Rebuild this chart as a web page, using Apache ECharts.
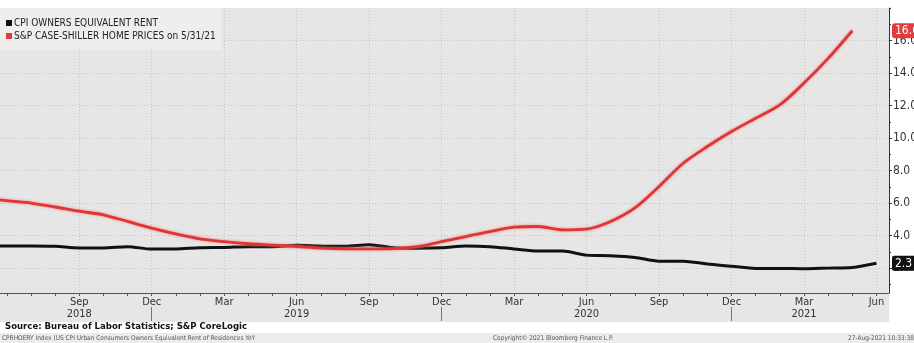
<!DOCTYPE html>
<html>
<head>
<meta charset="utf-8">
<script src="https://cdn.jsdelivr.net/npm/echarts@6/dist/echarts.min.js"></script>
<style>
html,body{margin:0;padding:0;background:#fff;}
#chart{width:914px;height:343px;}
</style>
</head>
<body>
<div id="chart"></div>
<script>
// ---- data ----
const months = ['2018-05','2018-06','2018-07','2018-08','2018-09','2018-10','2018-11','2018-12',
  '2019-01','2019-02','2019-03','2019-04','2019-05','2019-06','2019-07','2019-08','2019-09','2019-10','2019-11','2019-12',
  '2020-01','2020-02','2020-03','2020-04','2020-05','2020-06','2020-07','2020-08','2020-09','2020-10','2020-11','2020-12',
  '2021-01','2021-02','2021-03','2021-04','2021-05','2021-06'];
const cpiOER = [3.38,3.36,3.36,3.34,3.24,3.24,3.32,3.17,
  3.18,3.25,3.27,3.32,3.32,3.40,3.36,3.35,3.44,3.25,3.22,3.25,
  3.36,3.32,3.18,3.05,3.05,2.80,2.76,2.66,2.43,2.43,2.25,2.12,
  1.98,1.98,1.96,2.00,2.04,2.30];
const caseShiller = [6.35,6.15,6.00,5.76,5.50,5.28,4.87,4.46,
  4.10,3.80,3.63,3.50,3.42,3.33,3.23,3.18,3.18,3.20,3.32,3.63,
  3.94,4.25,4.52,4.56,4.35,4.40,4.87,5.70,7.02,8.45,9.48,10.40,
  11.22,12.04,13.38,14.90,16.60];
const seriesNames = ['CPI OWNERS EQUIVALENT RENT','S&P CASE-SHILLER HOME PRICES on 5/31/21'];
const xLabelMonths = ['2018-09','2018-12','2019-03','2019-06','2019-09','2019-12','2020-03','2020-06','2020-09','2020-12','2021-03','2021-06'];
const xLabelNames = ['Sep','Dec','Mar','Jun','Sep','Dec','Mar','Jun','Sep','Dec','Mar','Jun'];
const yearLabelMonths = ['2018-09','2019-06','2020-06','2021-03'];
const yearLabelTexts = ['2018','2019','2020','2021'];
const yearBreakMonths = ['2018-12','2019-12','2020-12'];
const yTickLabels = [2,4,6,8,10,12,14,16];
const yMinorTicks = [1,2,3,4,5,6,7,8,9,10,11,12,13,14,15,16,17,18];
const xMin = -6.28, xMax = 30.52, yMin = 0.47, yMax = 18.0;

// month index: end of Dec 2018 = 0
function mi(s){ const p = s.split('-').map(Number); return (p[0]-2018)*12 + p[1] - 12; }
const cpiData = cpiOER.map((v,i)=>[mi(months[i]), v]);
const csData = caseShiller.map((v,i)=>[mi(months[i]), v]);
const labelVals = xLabelMonths.map(mi);
const yearVals = yearLabelMonths.map(mi);
const monthTicks = [];
for (let k = Math.ceil(xMin); k <= Math.floor(xMax); k++) monthTicks.push(k);
const lastCpi = cpiOER[cpiOER.length-1], lastCs = caseShiller[caseShiller.length-1];

const FONT = 'Liberation Sans Narrow, DejaVu Sans Condensed, sans-serif';
const chart = echarts.init(document.getElementById('chart'), null, {renderer:'canvas'});
const base = {type:'value', min:xMin, max:xMax, gridIndex:0};
const yBase = {type:'value', position:'right', min:yMin, max:yMax, gridIndex:0};

chart.setOption({
  animation:false,
  backgroundColor:'#ffffff',
  graphic:[
    {type:'rect', shape:{x:0,y:293,width:889,height:29}, style:{fill:'#e6e6e6'}, z:-1},
    {type:'rect', shape:{x:0,y:333,width:914,height:10}, style:{fill:'#ececec'}, z:-1},
    {type:'text', left:5, top:322, style:{text:'Source: Bureau of Labor Statistics; S&P CoreLogic', font:'bold 9.5px '+FONT, fill:'#111'}},
    {type:'text', left:2, top:335, style:{text:'CPRHOERY Index (US CPI Urban Consumers Owners Equivalent Rent of Residences YoY', font:'6.5px '+FONT, fill:'#555'}},
    {type:'text', left:493, top:335, style:{text:'Copyright\u00a9 2021 Bloomberg Finance L.P.', font:'6.5px '+FONT, fill:'#555'}},
    {type:'text', right:0, top:335, style:{text:'27-Aug-2021 10:33:38', font:'6.5px '+FONT, fill:'#555'}}
  ],
  grid:{left:0, right:25, top:8, bottom:50, outerBoundsMode:'none', containLabel:false,
    show:true, backgroundColor:'#e6e6e6', borderWidth:0},
  legend:{
    left:0, top:8, orient:'vertical', backgroundColor:'#eeeeee',
    padding:[10,6,9,6], itemGap:3, itemWidth:6, itemHeight:6,
    textStyle:{fontFamily:FONT, fontSize:10, color:'#222', padding:[0,0,0,-3]},
    data:[{name:seriesNames[0], icon:'rect', itemStyle:{color:'#111'}},
          {name:seriesNames[1], icon:'rect', itemStyle:{color:'#e03a3a'}}]
  },
  xAxis:[
    Object.assign({}, base, {
      position:'bottom',
      axisLine:{show:true, onZero:false, lineStyle:{color:'#555', width:1}},
      axisTick:{show:false, customValues:labelVals},
      splitLine:{show:true, lineStyle:{color:'#c4c4c4', type:[1,2], width:1}},
      axisLabel:{customValues:labelVals, margin:3, fontFamily:FONT, fontSize:11, color:'#333', lineHeight:12,
        formatter:function(v){
          const idx = labelVals.indexOf(Math.round(v));
          let s = xLabelNames[idx];
          const yi = yearVals.indexOf(Math.round(v));
          if (yi >= 0) s += '\n' + yearLabelTexts[yi];
          return s;
        }}
    }),
    Object.assign({}, base, {
      position:'bottom', axisLine:{show:false, onZero:false},
      axisTick:{show:true, customValues:monthTicks, length:3, lineStyle:{color:'#555'}},
      axisLabel:{show:false}, splitLine:{show:false}
    }),
    Object.assign({}, base, {
      position:'bottom', offset:14, axisLine:{show:false, onZero:false},
      axisTick:{show:true, customValues:yearBreakMonths.map(mi), length:14, lineStyle:{color:'#777'}},
      axisLabel:{show:false}, splitLine:{show:false}
    })
  ],
  yAxis:[
    Object.assign({}, yBase, {
      axisLine:{show:true, onZero:false, lineStyle:{color:'#333'}},
      axisTick:{show:true, customValues:yTickLabels, length:3, lineStyle:{color:'#333'}},
      splitLine:{show:true, lineStyle:{color:'#c4c4c4', type:[1,2], width:1}},
      axisLabel:{customValues:yTickLabels, margin:4, fontFamily:FONT, fontSize:12, color:'#333',
        formatter:function(v){return v.toFixed(1);}}
    }),
    Object.assign({}, yBase, {
      axisLine:{show:false, onZero:false},
      axisTick:{show:true, customValues:yMinorTicks, length:2, lineStyle:{color:'#333'}},
      splitLine:{show:false}, axisLabel:{show:false}
    }),
    Object.assign({}, yBase, {
      axisLine:{show:false, onZero:false},
      axisTick:{show:false, customValues:[lastCpi, lastCs]},
      splitLine:{show:false},
      axisLabel:{customValues:[lastCpi, lastCs], margin:3, hideOverlap:false,
        formatter:function(v){
          return Math.abs(v-lastCs) < 1e-6 ? '{r|'+v.toFixed(1)+'}' : '{k|'+v.toFixed(1)+'}';
        },
        rich:{
          r:{backgroundColor:'#e23c3c', color:'#fff', fontFamily:FONT, fontSize:12, padding:[2,3,1,3], borderRadius:3},
          k:{backgroundColor:'#111', color:'#fff', fontFamily:FONT, fontSize:12, padding:[2,3,1,3], borderRadius:2}
        }}
    })
  ],
  series:[
    {name:seriesNames[0], type:'line', data:cpiData, smooth:0.3, symbol:'none', clip:true,
      lineStyle:{color:'#111', width:3}, itemStyle:{color:'#111'}, z:3},
    {name:seriesNames[1], type:'line', data:csData, smooth:0.3, symbol:'none', clip:true,
      lineStyle:{color:'#dc3636', width:2.8, shadowBlur:3, shadowColor:'rgba(255,110,110,0.8)'}, itemStyle:{color:'#e03a3a'}, z:4}
  ]
});
</script>
</body>
</html>
